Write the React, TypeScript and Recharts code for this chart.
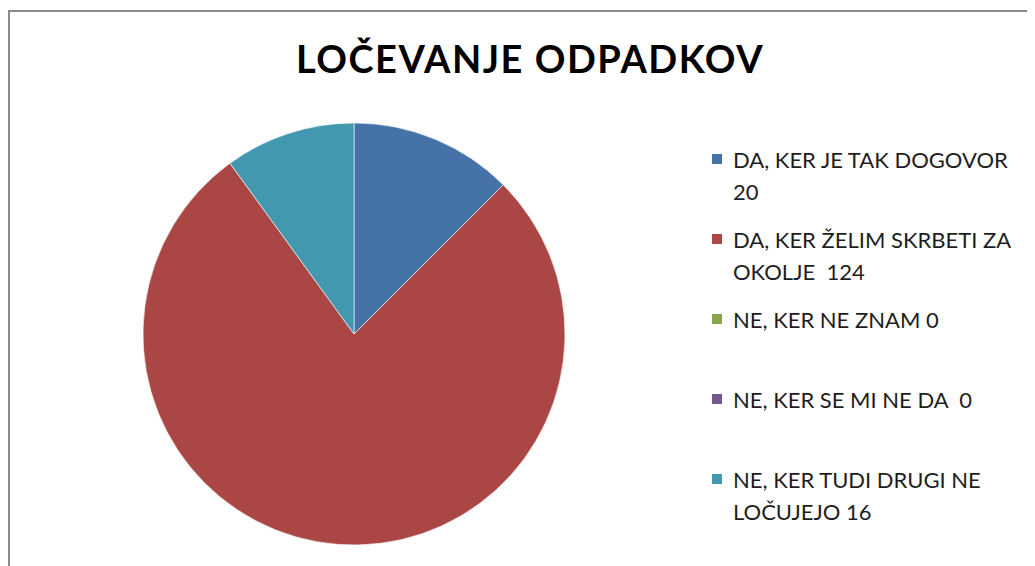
import React from "react";
import { PieChart, Pie, Cell, Legend } from "recharts";

const categories = [
  "DA, KER JE TAK DOGOVOR 20",
  "DA, KER ŽELIM SKRBETI ZA OKOLJE  124",
  "NE, KER NE ZNAM 0",
  "NE, KER SE MI NE DA  0",
  "NE, KER TUDI DRUGI NE LOČUJEJO 16",
];
const values = [20, 124, 0, 0, 16];
const colors = ["#4572A7", "#AA4643", "#89A54E", "#71588F", "#4198AF"];
const title = "LOČEVANJE ODPADKOV";

const data = categories.map((name, i) => ({ name, value: values[i] }));

const FONT = "Lato, 'Open Sans', 'DejaVu Sans', sans-serif";

const LegendContent = (props: any) => {
  const payload = props.payload || [];
  return (
    <div style={{ fontFamily: FONT }}>
      {payload.map((p: any, i: number) => (
        <div
          key={i}
          style={{
            position: "relative",
            height: 80,
            paddingLeft: 21,
            width: 314,
            boxSizing: "border-box",
            fontSize: 22,
            lineHeight: "32px",
            color: "#1e1e1e",
            whiteSpace: "pre-wrap",
          }}
        >
          <span
            style={{
              position: "absolute",
              left: 0,
              top: 10,
              width: 10,
              height: 10,
              background: p.color,
            }}
          />
          <span>{p.value}</span>
        </div>
      ))}
    </div>
  );
};

export default function App() {
  return (
    <div
      style={{
        position: "relative",
        marginTop: 2,
        width: 1027,
        height: 556,
        borderLeft: "2px solid #8a8a8a",
        borderTop: "2px solid #8a8a8a",
        background: "#fff",
      }}
    >
      <div
        style={{
          position: "absolute",
          left: 0,
          top: 24,
          width: 1040,
          textAlign: "center",
          fontFamily: FONT,
          fontWeight: 700,
          fontSize: 38,
          letterSpacing: 1.5,
          color: "#000",
          lineHeight: "44px",
        }}
      >
        {title}
      </div>
      <PieChart width={1027} height={556} margin={{ top: 0, right: 0, bottom: 0, left: 0 }}>
        <Pie
          data={data}
          dataKey="value"
          nameKey="name"
          cx={344}
          cy={322}
          outerRadius={211}
          startAngle={90}
          endAngle={-270}
          stroke="#ffffff"
          strokeWidth={0.6}
          isAnimationActive={false}
          legendType="square"
        >
          {data.map((d, i) => (
            <Cell key={d.name} fill={colors[i]} />
          ))}
        </Pie>
        <Legend
          layout="vertical"
          align="right"
          verticalAlign="top"
          content={<LegendContent />}
          wrapperStyle={{ position: "absolute", left: 702, top: 132, width: 320 }}
        />
      </PieChart>
    </div>
  );
}
